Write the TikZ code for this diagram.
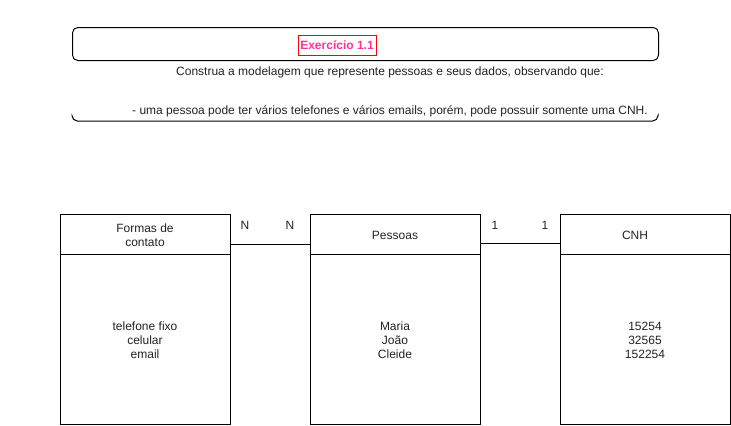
\documentclass[tikz,border=0pt]{standalone}
\usepackage{fontspec}
\setmainfont{Liberation Sans}
\definecolor{pinkt}{HTML}{FF3399}
\definecolor{redb}{HTML}{FF0000}
\definecolor{txt}{HTML}{222222}
\begin{document}
\begin{tikzpicture}[x=0.75pt,y=-0.75pt,
  every node/.style={font=\fontsize{9}{10.5}\selectfont, text=txt, inner sep=0pt},
  box/.style={draw=black, line width=0.8pt, minimum width=127.5pt, anchor=north west},
  hdr/.style={box, minimum height=30pt},
  bdy/.style={box, minimum height=127.5pt},
  conn/.style={draw=black, line width=0.75pt},
  lbl/.style={anchor=center},
  multi/.style={align=center}]
\useasboundingbox (0,0) rectangle (731,425);
% top frame
\node[draw=black, line width=0.75pt, rounded corners=4pt, minimum width=439.5pt, minimum height=24.75pt, anchor=north west] (frame) at (72,27) {};
\draw[line width=0.75pt, rounded corners=4pt] (72,116) -- (72,121) -- (658,121) -- (658,116);
\node[draw=redb, line width=0.75pt, minimum width=58.5pt, minimum height=15pt, text=pinkt, font=\bfseries\fontsize{9}{10.5}\selectfont] (title) at (337,45) {Exercício 1.1};
\node (desc1) at (390,72) {Construa a modelagem que represente pessoas e seus dados, observando que:};
\node (desc2) at (390,111) {- uma pessoa pode ter vários telefones e vários emails, porém, pode possuir somente uma CNH.};
% tables
\node[hdr] (fh) at (60,214) {};
\node[bdy] (fb) at (60,254) {};
\node[multi] (ft) at (145,235) {Formas de\\contato};
\node[multi] (fl) at (145,340) {telefone fixo\\celular\\email};

\node[hdr] (ph) at (310,214) {};
\node[bdy] (pb) at (310,254) {};
\node (pt) at (395,235) {Pessoas};
\node[multi] (pl) at (395,340) {Maria\\João\\Cleide};

\node[hdr] (ch) at (560,214) {};
\node[bdy] (cb) at (560,254) {};
\node (ct) at (635,235) {CNH};
\node[multi] (cl) at (645,340) {15254\\32565\\152254};

% connectors
\coordinate (a1) at (230,244);
\coordinate (a2) at (310,244);
\coordinate (b1) at (480,243);
\coordinate (b2) at (560,243);
\draw[conn] (a1) -- (a2);
\draw[conn] (b1) -- (b2);
\node (n1) at (245,225) {N};
\node (n2) at (290,225) {N};
\node (o1) at (495,225) {1};
\node (o2) at (545,225) {1};
\end{tikzpicture}
\end{document}
